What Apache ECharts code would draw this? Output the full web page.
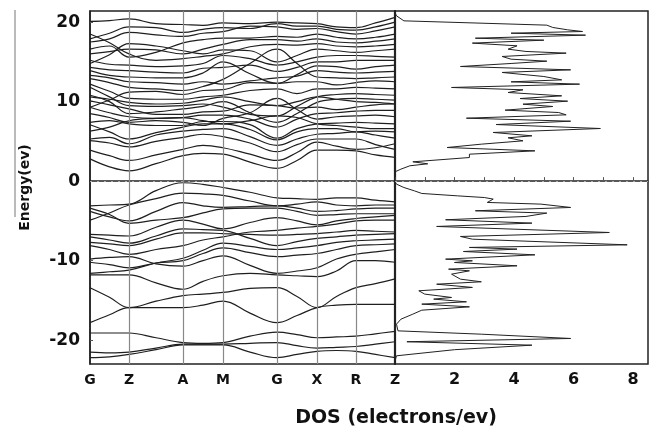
<!DOCTYPE html>
<html>
<head>
<meta charset="utf-8">
<script src="https://cdn.jsdelivr.net/npm/echarts@6/dist/echarts.min.js"></script>
<style>
html, body { margin: 0; padding: 0; background: #fff; }
#chart { width: 654px; height: 431px; }
</style>
</head>
<body>
<div id="chart"></div>
<script>
// k-path: distance along the path (same scale as the plot), high symmetry points + midpoints
const kPath = [0, 19.5, 39, 66, 93, 113, 133, 160, 187, 207, 227, 246.5, 266, 285.5, 305]
const kTicks = [0, 39, 93, 133, 187, 227, 266, 305]
const kNames = ['G', 'Z', 'A', 'M', 'G', 'X', 'R', 'Z']

// valence bands (eV), one row per band, values at kPath
const valenceBands = [
	[-22.2, -22.1, -21.8, -21.2, -20.6, -20.6, -20.6, -21.5, -22.2, -21.8, -21.4, -21.3, -21.4, -21.8, -22.2],
	[-21.5, -21.6, -21.5, -21.0, -20.5, -20.5, -20.5, -20.4, -20.3, -20.7, -21.0, -20.9, -20.8, -20.5, -20.2],
	[-19.1, -19.1, -19.1, -19.7, -20.3, -20.4, -20.3, -19.5, -19.0, -19.3, -19.7, -19.6, -19.5, -19.2, -18.9],
	[-17.8, -16.8, -15.9, -15.9, -15.9, -15.6, -15.1, -16.6, -17.8, -16.9, -15.9, -15.6, -15.5, -15.5, -15.5],
	[-13.4, -14.6, -15.9, -15.1, -14.4, -14.2, -14.0, -13.5, -13.4, -14.5, -15.9, -14.5, -13.4, -12.9, -12.3],
	[-11.8, -11.8, -11.8, -12.8, -13.6, -12.6, -11.9, -11.6, -11.8, -11.9, -12.0, -11.3, -10.0, -10.0, -10.2],
	[-11.6, -11.4, -11.2, -10.3, -9.7, -8.7, -7.8, -8.2, -8.6, -8.4, -8.1, -7.7, -7.5, -7.4, -7.3],
	[-10.2, -10.5, -10.9, -10.3, -10.0, -9.1, -8.4, -9.0, -9.5, -9.3, -9.1, -8.6, -8.1, -8.0, -7.9],
	[-9.8, -9.6, -9.5, -10.4, -10.7, -10.0, -9.4, -10.6, -11.6, -11.3, -10.9, -9.8, -9.2, -8.9, -8.6],
	[-8.1, -8.6, -9.2, -8.6, -8.1, -7.4, -7.0, -6.4, -6.2, -5.9, -5.7, -5.4, -5.0, -4.9, -4.9],
	[-7.7, -7.9, -8.1, -7.3, -6.5, -6.5, -6.6, -6.7, -6.8, -6.7, -6.6, -6.4, -6.2, -6.3, -6.4],
	[-7.0, -7.4, -7.8, -6.9, -6.0, -6.1, -6.2, -7.2, -8.1, -7.6, -7.2, -7.0, -6.8, -6.7, -6.6],
	[-6.7, -6.8, -6.9, -5.8, -4.9, -5.4, -6.0, -5.2, -4.6, -5.0, -5.5, -5.0, -4.7, -4.5, -4.3],
	[-4.9, -4.0, -3.0, -2.2, -1.5, -1.6, -1.8, -2.5, -3.1, -2.9, -2.6, -3.0, -3.1, -3.0, -3.0],
	[-3.8, -4.5, -5.0, -3.8, -2.7, -3.1, -3.3, -3.2, -3.1, -3.4, -3.8, -3.7, -3.5, -3.4, -3.4],
	[-3.4, -4.2, -5.3, -4.9, -4.6, -4.0, -3.5, -3.4, -3.4, -3.8, -4.3, -4.2, -4.1, -4.1, -4.1],
	[-3.1, -3.0, -2.9, -1.2, -0.2, -0.4, -0.8, -1.4, -2.1, -2.2, -2.3, -2.1, -2.1, -2.4, -2.6]
]

// conduction bands (eV)
const conductionBands = [
	[2.8, 1.8, 1.3, 2.2, 3.2, 3.5, 3.4, 2.4, 1.6, 2.6, 3.9, 3.9, 3.8, 3.3, 3.0],
	[3.9, 3.2, 2.6, 3.3, 4.0, 4.5, 4.2, 3.4, 2.6, 3.6, 4.9, 4.4, 4.0, 4.2, 4.7],
	[5.1, 4.8, 4.3, 5.0, 5.5, 5.9, 5.6, 4.8, 3.7, 4.6, 5.3, 5.3, 5.3, 4.6, 4.0],
	[5.3, 5.5, 4.7, 5.8, 6.3, 6.5, 6.6, 5.6, 4.5, 5.3, 5.9, 6.0, 6.2, 5.8, 5.4],
	[7.1, 6.2, 5.3, 6.1, 6.8, 7.2, 7.2, 6.5, 5.2, 6.2, 6.6, 6.6, 6.2, 6.3, 6.2],
	[7.4, 7.6, 7.2, 7.0, 7.0, 7.5, 7.5, 7.1, 5.4, 6.6, 7.2, 7.3, 7.4, 7.3, 7.2],
	[6.3, 6.8, 7.6, 7.9, 8.0, 7.6, 7.2, 7.6, 8.2, 8.0, 7.2, 7.0, 6.8, 6.6, 6.6],
	[8.5, 8.0, 7.4, 7.6, 7.4, 7.0, 7.9, 8.6, 10.4, 9.0, 7.8, 8.1, 8.2, 8.3, 8.1],
	[9.3, 8.6, 8.1, 7.9, 8.0, 8.3, 8.3, 7.8, 6.8, 7.8, 8.5, 8.6, 8.8, 8.9, 8.9],
	[10.1, 9.6, 9.1, 8.4, 8.4, 8.7, 8.8, 9.6, 9.5, 9.2, 9.3, 9.0, 9.3, 9.6, 9.7],
	[10.8, 10.0, 8.5, 8.7, 9.1, 9.4, 10.0, 8.6, 7.4, 8.5, 9.9, 10.3, 10.4, 10.3, 10.2],
	[10.6, 10.3, 9.9, 9.7, 9.8, 10.2, 10.6, 10.0, 9.5, 10.0, 10.6, 10.3, 10.0, 9.9, 9.7],
	[11.8, 10.6, 9.5, 9.4, 9.5, 9.7, 9.3, 8.4, 8.2, 9.4, 10.6, 10.9, 11.0, 10.9, 10.8],
	[12.2, 11.3, 10.4, 10.3, 10.3, 10.6, 10.8, 11.4, 11.6, 11.0, 11.6, 11.6, 11.8, 11.7, 11.6],
	[9.3, 10.2, 11.2, 11.3, 10.9, 11.4, 11.5, 12.4, 12.3, 12.5, 12.5, 12.1, 12.4, 12.6, 12.5],
	[12.9, 12.4, 11.8, 11.6, 11.4, 11.9, 12.8, 14.8, 16.6, 14.8, 13.1, 13.0, 12.9, 13.0, 13.1],
	[13.3, 13.0, 12.5, 12.4, 12.2, 12.5, 12.2, 12.6, 13.0, 13.2, 13.9, 13.7, 13.6, 13.7, 13.8],
	[13.9, 13.3, 13.1, 13.0, 13.0, 13.6, 15.0, 13.5, 12.3, 13.4, 14.5, 14.4, 14.1, 14.4, 14.6],
	[14.3, 14.0, 13.9, 13.7, 13.6, 14.2, 14.3, 14.6, 13.8, 14.3, 15.0, 15.0, 15.2, 15.2, 15.2],
	[15.2, 14.7, 14.6, 14.4, 14.5, 14.8, 15.8, 15.4, 14.6, 15.0, 15.6, 15.8, 15.8, 15.7, 15.6],
	[14.8, 15.9, 17.3, 17.0, 16.4, 16.0, 16.5, 16.4, 15.0, 15.8, 16.6, 16.4, 16.2, 16.4, 16.6],
	[18.5, 17.4, 16.0, 15.2, 15.4, 15.7, 16.0, 16.9, 17.2, 17.1, 17.3, 17.0, 16.9, 17.0, 17.2],
	[16.0, 16.3, 16.6, 16.5, 16.0, 16.6, 17.2, 17.8, 17.8, 17.6, 17.9, 17.5, 17.4, 17.6, 17.9],
	[16.6, 17.0, 15.6, 16.2, 17.4, 17.8, 18.0, 18.0, 18.2, 18.1, 18.5, 18.1, 17.9, 18.1, 18.5],
	[17.5, 17.9, 18.7, 18.4, 18.2, 18.6, 18.8, 19.5, 19.4, 19.1, 19.2, 18.8, 18.5, 18.9, 19.4],
	[17.9, 18.6, 19.4, 19.3, 18.7, 19.1, 19.3, 19.2, 19.8, 19.5, 19.5, 19.1, 19.0, 19.4, 20.0],
	[20.1, 20.2, 20.4, 19.8, 19.7, 19.6, 19.9, 19.8, 20.0, 19.9, 19.8, 19.4, 19.3, 19.9, 20.6]
]

// total DOS, read top to bottom
const dosEnergy = [
	21.2, 20.79, 20.16, 19.62, 19.33, 19.03, 18.82, 18.61, 18.36, 17.98,
	17.73, 17.36, 17.02, 16.60, 16.31, 16.10, 15.68, 15.34, 15.09, 14.80,
	14.42, 14.00, 13.67, 13.16, 12.74, 12.49, 12.20, 11.78, 11.49, 11.15,
	10.73, 10.39, 10.06, 9.68, 9.39, 8.93, 8.63, 8.34, 7.92, 7.54,
	7.12, 6.62, 6.12, 5.70, 5.45, 5.07, 4.65, 4.23, 3.81, 3.39,
	2.97, 2.43, 2.18, 1.93, 1.51, 1.17, 0.6, -0.1, -0.38, -0.80,
	-1.22, -1.55, -1.85, -2.06, -2.26, -2.68, -2.89, -3.31, -3.73, -4.02,
	-4.44, -4.86, -5.28, -5.70, -6.46, -6.96, -7.30, -7.55, -8.01, -8.34,
	-8.55, -8.85, -9.27, -9.81, -10.02, -10.23, -10.65, -11.07, -11.28, -11.70,
	-12.33, -12.66, -12.96, -13.37, -13.79, -14.21, -14.63, -14.84, -15.18, -15.47,
	-15.81, -16.23, -16.73, -17.36, -17.99, -18.83, -19.25, -19.79, -20.20, -20.63,
	-21.2, -21.97, -22.6
]
const dosValue = [
	0.0, 0.05, 0.3, 5.1, 5.3, 5.8, 6.3, 3.9, 6.4, 2.7,
	5.0, 2.6, 4.1, 3.8, 4.4, 5.75, 3.6, 3.9, 5.1, 3.9,
	2.2, 5.9, 3.6, 5.0, 5.6, 3.9, 6.2, 1.9, 4.3, 3.8,
	5.6, 4.2, 5.8, 4.3, 5.3, 3.7, 5.5, 5.75, 2.4, 5.9,
	3.4, 6.9, 3.3, 4.6, 3.8, 4.3, 2.9, 1.75, 4.7, 2.5,
	2.5, 0.6, 1.1, 0.5, 0.2, 0.0, 0.0, 0.0, 0.05, 0.3,
	0.65, 0.9, 2.1, 3.0, 3.3, 3.1, 4.9, 5.9, 2.7, 5.1,
	4.4, 1.7, 4.6, 1.4, 7.2, 2.2, 2.6, 4.4, 7.8, 2.5,
	4.1, 2.3, 4.7, 1.7, 2.6, 2.0, 4.1, 1.8, 2.5, 1.9,
	2.2, 2.9, 1.4, 2.6, 0.8, 1.0, 1.9, 1.3, 2.4, 0.9,
	2.5, 0.9, 0.6, 0.2, 0.05, 0.1, 2.9, 5.9, 0.4, 4.6,
	2.0, 0.05, 0.0
]

const energyTicks = [-20, -10, 0, 10, 20]
const eMin = -23
const eMax = 21.4

const font = 'DejaVu Sans'
const chart = echarts.init(document.getElementById('chart'))

const bandSeries = valenceBands.concat(conductionBands).map(b => ({
	type: 'line',
	xAxisIndex: 0,
	yAxisIndex: 0,
	data: b.map((e, j) => [kPath[j], e]),
	smooth: 0.4,
	symbol: 'none',
	silent: true,
	lineStyle: { color: '#1f1f1f', width: 1.2 }
}))

// vertical lines at the high symmetry points + Fermi level
bandSeries[0].markLine = {
	silent: true,
	symbol: ['none', 'none'],
	label: { show: false },
	animation: false,
	data: kTicks.slice(1, -1).map(k => ({ xAxis: k, lineStyle: { color: '#888', width: 1.2, type: 'solid' } }))
		.concat([{ yAxis: 0, lineStyle: { color: '#aaa', width: 1.2, type: [2, 5] } }])
}

chart.setOption({
	animation: false,
	backgroundColor: '#fff',
	grid: [
		{ left: 90, top: 11, width: 305, height: 353, show: true, borderColor: '#222', borderWidth: 1.5 },
		{ left: 395, top: 11, width: 253, height: 353, show: true, borderColor: '#222', borderWidth: 1.5 }
	],
	xAxis: [
		{
			type: 'value',
			gridIndex: 0,
			min: 0,
			max: 305,
			splitLine: { show: false },
			axisLine: { lineStyle: { color: '#222', width: 1.5 } },
			axisTick: { show: false },
			axisLabel: {
				customValues: kTicks,
				formatter: v => kNames[kTicks.indexOf(v)],
				margin: 9,
				color: '#111',
				fontFamily: font,
				fontWeight: 'bold',
				fontSize: 14
			}
		},
		{
			type: 'value',
			gridIndex: 1,
			min: 0,
			max: 8.5,
			interval: 1,
			splitLine: { show: false },
			axisLine: { lineStyle: { color: '#222', width: 1.5 } },
			axisTick: { inside: true, length: 4, lineStyle: { color: '#555' } },
			axisLabel: {
				formatter: v => (v > 0 && v % 2 === 0 ? String(v) : ''),
				margin: 8,
				color: '#111',
				fontFamily: font,
				fontWeight: 'bold',
				fontSize: 16
			}
		}
	],
	yAxis: [
		{
			type: 'value',
			gridIndex: 0,
			min: eMin,
			max: eMax,
			name: 'Energy(ev)',
			nameLocation: 'middle',
			nameRotate: 90,
			nameGap: 58,
			nameTextStyle: { color: '#111', fontFamily: font, fontWeight: 'bold', fontSize: 14 },
			splitLine: { show: false },
			axisLine: { show: true, lineStyle: { color: '#222', width: 1.5 } },
			axisTick: { show: true, inside: true, length: 3, customValues: energyTicks, lineStyle: { color: '#555' } },
			axisLabel: {
				customValues: energyTicks,
				margin: 10,
				color: '#111',
				fontFamily: font,
				fontWeight: 'bold',
				fontSize: 17
			}
		},
		{
			type: 'value',
			gridIndex: 1,
			min: eMin,
			max: eMax,
			splitLine: { show: false },
			axisLine: { show: true, lineStyle: { color: '#222', width: 2.2 } },
			axisTick: { show: false },
			axisLabel: { show: false }
		}
	],
	graphic: [
		{
			type: 'line',
			silent: true,
			shape: { x1: 15, y1: 10, x2: 15, y2: 217 },
			style: { stroke: '#777', lineWidth: 1 }
		},
		{
			type: 'text',
			silent: true,
			x: 396,
			y: 418,
			style: {
				text: 'DOS (electrons/ev)',
				font: 'bold 19px "DejaVu Sans"',
				fill: '#111',
				align: 'center',
				verticalAlign: 'middle',
				textAlign: 'center',
				textVerticalAlign: 'middle'
			}
		}
	],
	series: bandSeries.concat([
		{
			type: 'line',
			xAxisIndex: 1,
			yAxisIndex: 1,
			data: dosEnergy.map((e, i) => [dosValue[i], e]),
			symbol: 'none',
			silent: true,
			lineStyle: { color: '#222', width: 1 },
			markLine: {
				silent: true,
				symbol: ['none', 'none'],
				label: { show: false },
				animation: false,
				data: [{ yAxis: 0, lineStyle: { color: '#aaa', width: 1.2, type: [2, 5] } }]
			}
		}
	])
})
</script>
</body>
</html>
